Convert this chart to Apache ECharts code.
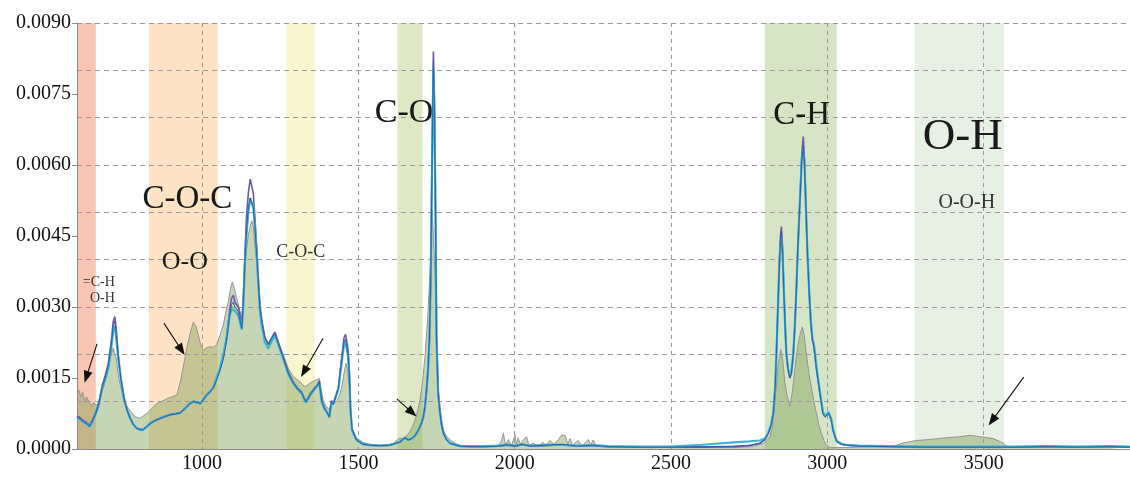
<!DOCTYPE html>
<html>
<head>
<meta charset="utf-8">
<script src="https://cdn.jsdelivr.net/npm/echarts@6/dist/echarts.min.js"></script>
<style>
html,body{margin:0;padding:0;background:#fff;}
#chart{width:1130px;height:479px;}
</style>
</head>
<body>
<div id="chart"></div>
<script>
// ---------------- data ----------------
const xTickValues = [1000, 1500, 2000, 2500, 3000, 3500];

// highlighted absorption bands (wavenumber ranges)
const bandStart = [600, 830, 1270, 1625, 2800, 3280];
const bandEnd   = [660, 1050, 1360, 1705, 3030, 3565];

// aged sample (filled spectrum)
const agedX = [
  600,606,612,618,625,631,636,642,647,652,
  657,663,668,676,684,692,700,708,716,720,
  726,732,740,748,756,764,775,786,795,802,
  812,823,840,855,870,887,903,919,930,941,
  950,956,964,972,980,988,996,1004,1014,1025,
  1036,1046,1057,1068,1076,1084,1091,1097,1103,1110,
  1116,1122,1127,1132,1137,1142,1148,1154,1159,1164,
  1169,1175,1180,1185,1191,1201,1212,1223,1233,1244,
  1260,1276,1292,1303,1313,1321,1329,1337,1345,1355,
  1366,1375,1380,1388,1398,1407,1414,1422,1430,1438,
  1446,1454,1460,1465,1471,1475,1480,1494,1515,1537,
  1570,1600,1612,1625,1633,1641,1649,1657,1665,1673,
  1681,1689,1697,1705,1713,1721,1729,1733,1736,1740,
  1745,1750,1756,1764,1772,1782,1793,1810,1825,1860,
  1900,1940,1955,1964,1970,1980,1990,2001,2006,2011,
  2018,2026,2038,2045,2060,2075,2090,2100,2113,2125,
  2140,2150,2155,2162,2170,2177,2185,2203,2215,2235,
  2243,2251,2260,2300,2400,2500,2600,2700,2760,2795,
  2816,2825,2832,2843,2851,2857,2864,2872,2880,2888,
  2896,2904,2912,2920,2926,2933,2941,2949,2957,2965,
  2973,2981,2989,2997,3010,3050,3100,3180,3221,3243,
  3285,3328,3381,3424,3456,3488,3530,3562,3573,3600,
  3700,3800,3900,3968
];
const agedY = [
  0.00118,0.00125,0.0011,0.00121,0.001,0.0011,0.00107,0.00095,0.0009,0.00098,
  0.00096,0.00092,0.001,0.00112,0.00128,0.0015,0.0017,0.00195,0.00213,0.0021,
  0.0019,0.00156,0.0013,0.00107,0.00095,0.00086,0.00076,0.00068,0.00066,0.00065,
  0.0007,0.00075,0.00086,0.00096,0.001,0.00106,0.0011,0.00114,0.0014,0.00177,
  0.0021,0.00227,0.0025,0.00268,0.0026,0.00241,0.0022,0.00209,0.00214,0.00216,
  0.00215,0.0022,0.0024,0.00262,0.0029,0.00311,0.0034,0.00353,0.0034,0.0032,
  0.00318,0.0029,0.00276,0.0032,0.00375,0.0042,0.00452,0.0047,0.00482,0.0047,
  0.00431,0.0039,0.00339,0.003,0.00269,0.00227,0.0022,0.00234,0.00241,0.00223,
  0.00199,0.0017,0.00153,0.00147,0.00142,0.00136,0.00132,0.00135,0.00139,0.00143,
  0.00146,0.00149,0.0013,0.001,0.0009,0.00082,0.001,0.00098,0.001,0.0011,
  0.00128,0.0016,0.00181,0.0017,0.00128,0.0008,0.00044,0.00023,0.00014,0.0001,
  0.00008,0.0001,0.00012,0.0002,0.00023,0.00022,0.00026,0.0003,0.00037,0.00047,
  0.00061,0.0008,0.00103,0.0014,0.00195,0.0027,0.0037,0.0044,0.00505,0.0045,
  0.0037,0.0024,0.00125,0.0007,0.0004,0.00027,0.00019,0.00012,0.00008,0.00006,
  0.00005,0.00006,0.00012,0.00033,0.00008,0.0002,0.00007,0.0003,0.00008,0.00024,
  0.0001,0.00018,0.00026,0.00008,0.00012,0.00006,0.00014,0.00008,0.00018,0.0001,
  0.0002,0.0003,0.00033,0.00028,0.0001,0.00022,0.00008,0.00018,0.00006,0.0002,
  0.00008,0.00019,0.00006,0.00004,0.00004,0.00003,0.00003,0.00003,0.00005,0.00012,
  0.00026,0.0005,0.00096,0.0018,0.0021,0.0019,0.0014,0.0011,0.0009,0.0012,
  0.00167,0.0021,0.0024,0.00258,0.0024,0.002,0.0016,0.0013,0.001,0.00075,
  0.0005,0.00033,0.00018,0.00008,0.00003,0.00003,0.00004,0.00006,0.00008,0.00013,
  0.00018,0.0002,0.00024,0.00026,0.00029,0.00026,0.00022,0.00013,0.00006,0.00004,
  0.00005,0.00004,0.00005,0.00004
];

// fresh samples (line spectra), shared wavenumbers
const lineX = [
  600,610,620,630,640,650,660,670,680,690,700,710,716,721,726,732,740,750,760,770,780,790,800,
  810,820,835,850,865,880,897,915,930,945,960,972,985,995,1005,1015,1025,1036,1046,1057,1068,1078,1088,1094,1100,1105,1110,1116,1122,1127,
  1132,1137,1142,1148,1154,1159,1164,1169,1175,1180,1185,1191,1201,1212,1223,1233,1244,
  1260,1276,1292,1308,1319,1325,1332,1338,1345,1361,1370,1375,1379,1383,1390,1398,1407,1414,1420,1425,1436,1446,1454,1459,1463,1467,1471,1475,1480,1494,
  1515,1537,1570,1600,1620,1633,1645,1652,1660,1670,1680,1692,1702,1708,1713,1718,1723,1727,1731,1734,1737,1740,1743,1746,1750,1755,1759,1765,1772,1782,1793,1825,
  1860,1900,1950,1975,2000,2025,2050,2100,2150,2200,2250,2300,2400,2500,2600,2700,2750,2784,
  2800,2811,2820,2827,2833,2837,2842,2846,2850,2853,2857,2861,2865,2869,2874,2880,2885,2891,2896,2901,2906,2912,2918,2923,2927,2931,2936,2942,2947,2952,2956,2960,2965,2970,2978,2986,2993,2999,3004,3008,3013,3018,3025,3031,3045,3061,
  3100,3200,3300,3400,3500,3600,3700,3800,3900,3968
];
const purpleY = [
  0.0007,0.00066,0.0006,0.00056,0.0005,0.00062,0.00078,0.00098,0.00133,0.00155,0.0018,0.0023,0.0027,0.0028,0.0025,0.002,0.00152,0.0011,0.00083,0.00066,0.00053,0.00045,0.00042,
  0.00041,0.00046,0.00055,0.00061,0.00065,0.00069,0.00073,0.00075,0.00077,0.00086,0.00096,0.00101,0.00099,0.00097,0.00106,0.00115,0.00122,0.0013,0.00148,0.00168,0.00195,0.00235,0.0029,0.00318,0.00325,0.0031,0.00312,0.003,0.0028,0.00262,
  0.0032,0.0041,0.0049,0.0054,0.0057,0.0057,0.0054,0.0049,0.0042,0.0036,0.00305,0.00272,0.00236,0.00222,0.00236,0.00247,0.00226,
  0.00195,0.00163,0.00141,0.00127,0.0012,0.0011,0.00101,0.00107,0.00116,0.0013,0.00137,0.00144,0.00122,0.00102,0.0009,0.0008,0.0007,0.00102,0.00097,0.00095,0.0013,0.0019,0.00235,0.00242,0.0024,0.0021,0.00165,0.00082,0.00041,0.0002,
  0.0001,0.00008,0.00007,0.00008,0.00012,0.00015,0.00022,0.00023,0.00019,0.00022,0.00027,0.0004,0.00055,0.00068,0.0009,0.00125,0.0017,0.0023,0.0035,0.0053,0.0071,0.0084,0.0074,0.0057,0.0024,0.0012,0.0009,0.00056,0.00033,0.0002,0.00012,0.00006,
  0.00005,0.00005,0.00006,0.00008,0.00006,0.00009,0.00006,0.00007,0.00009,0.00006,0.00007,0.00005,0.00004,0.00004,0.00004,0.00005,0.00007,0.00012,
  0.0002,0.00033,0.0005,0.00075,0.0013,0.002,0.003,0.0039,0.0045,0.0047,0.0042,0.0033,0.0026,0.002,0.0017,0.0015,0.0016,0.002,0.0026,0.0034,0.0043,0.0052,0.0062,0.0066,0.0061,0.0052,0.0042,0.0033,0.0027,0.0023,0.0022,0.002,0.0017,0.00146,0.0011,0.00075,0.00068,0.00068,0.00076,0.00079,0.0006,0.0004,0.00024,0.00015,0.0001,0.00008,
  0.00006,0.00005,0.00004,0.00004,0.00004,0.00004,0.00005,0.00004,0.00005,0.00004
];
const blueY = [
  0.00068,0.00064,0.00058,0.00054,0.00048,0.0006,0.00075,0.00095,0.0013,0.0015,0.00175,0.00222,0.0026,0.0027,0.0024,0.00195,0.0015,0.00108,0.00082,0.00065,0.00052,0.00044,0.00041,
  0.0004,0.00045,0.00054,0.0006,0.00064,0.00068,0.00072,0.00074,0.00076,0.00085,0.00095,0.001,0.00098,0.00096,0.00105,0.00114,0.0012,0.00128,0.00145,0.00165,0.0019,0.00228,0.0028,0.00305,0.0031,0.003,0.00302,0.0029,0.0027,0.00255,
  0.0031,0.00396,0.0046,0.0051,0.0053,0.0053,0.0051,0.0047,0.0041,0.00354,0.003,0.00269,0.00234,0.0022,0.00234,0.00244,0.00223,
  0.00192,0.0016,0.00139,0.00125,0.00118,0.00108,0.00099,0.00105,0.00114,0.00128,0.00135,0.00142,0.0012,0.001,0.00088,0.00079,0.00068,0.001,0.00095,0.00093,0.00128,0.00185,0.00225,0.00232,0.0023,0.002,0.0016,0.0008,0.0004,0.00019,
  0.0001,0.00008,0.00007,0.00008,0.00012,0.00015,0.00022,0.00023,0.00019,0.00022,0.00027,0.0004,0.00055,0.00068,0.0009,0.00125,0.0017,0.0023,0.0034,0.0051,0.0068,0.0082,0.0073,0.0056,0.0023,0.0012,0.00089,0.00055,0.00033,0.0002,0.00012,0.00006,
  0.00005,0.00005,0.00006,0.00009,0.00006,0.0001,0.00006,0.00008,0.0001,0.00006,0.00008,0.00005,0.00004,0.00004,0.00005,0.00006,0.00008,0.00012,
  0.0002,0.00033,0.0005,0.00075,0.0013,0.002,0.003,0.0038,0.0044,0.0046,0.0041,0.0033,0.0026,0.002,0.0017,0.0015,0.0016,0.002,0.0026,0.0034,0.0043,0.0052,0.0061,0.0064,0.006,0.0052,0.0042,0.0033,0.0027,0.0023,0.0022,0.002,0.0017,0.00146,0.0011,0.00075,0.00068,0.00068,0.00076,0.00079,0.0006,0.0004,0.00024,0.00015,0.0001,0.00008,
  0.00006,0.00005,0.00004,0.00004,0.00004,0.00004,0.00005,0.00004,0.00005,0.00004
];
const cyanY = [
  0.00066,0.00062,0.00057,0.00053,0.00047,0.00059,0.00074,0.00093,0.00127,0.00146,0.0017,0.00215,0.0025,0.0026,0.0023,0.0019,0.00148,0.00107,0.00082,0.00065,0.00052,0.00044,0.00041,
  0.0004,0.00045,0.00054,0.0006,0.00064,0.00068,0.00072,0.00074,0.00076,0.00085,0.00095,0.001,0.00098,0.00096,0.00105,0.00114,0.0012,0.0013,0.0015,0.0017,0.002,0.00232,0.0028,0.00295,0.00298,0.00292,0.00295,0.00282,0.00265,0.00252,
  0.003,0.0039,0.0045,0.005,0.0053,0.0053,0.0051,0.0047,0.0041,0.0035,0.0029,0.0026,0.00225,0.00212,0.00228,0.0024,0.0022,
  0.0019,0.00158,0.00138,0.00124,0.00117,0.00107,0.00098,0.00104,0.00113,0.00127,0.00134,0.0014,0.00118,0.00099,0.00087,0.00078,0.00067,0.00099,0.00094,0.00092,0.00126,0.0018,0.0022,0.00226,0.00224,0.00195,0.00155,0.00078,0.00039,0.00019,
  0.0001,0.00008,0.00007,0.00008,0.00012,0.00015,0.00022,0.00023,0.00019,0.00022,0.00027,0.0004,0.00055,0.00068,0.0009,0.00125,0.0017,0.0023,0.0034,0.005,0.0066,0.008,0.0072,0.0055,0.0023,0.0012,0.00089,0.00055,0.00033,0.0002,0.00012,0.00006,
  0.00006,0.00006,0.00007,0.0001,0.00007,0.0001,0.00007,0.00009,0.00009,0.00007,0.00008,0.00006,0.00005,0.00005,0.00009,0.00014,0.00016,0.00018,
  0.00022,0.00035,0.00052,0.00077,0.0013,0.002,0.003,0.0038,0.0043,0.0045,0.0041,0.0033,0.0026,0.002,0.0017,0.00155,0.00165,0.002,0.0026,0.0034,0.0043,0.0052,0.0061,0.00635,0.006,0.0052,0.0042,0.0033,0.0027,0.00235,0.00225,0.00205,0.00175,0.0015,0.00113,0.00078,0.0007,0.0007,0.00078,0.00081,0.00062,0.00042,0.00026,0.00017,0.00011,0.00009,
  0.00007,0.00006,0.00005,0.00005,0.00005,0.00005,0.00006,0.00005,0.00006,0.00005
];

// annotations (text and arrows, in data coordinates)
const annotText = ['C-O-C', 'O-O', 'C-O-C', '=C-H\nO-H', 'C-O', 'C-H', 'O-H', 'O-O-H'];
const annotX    = [953, 945, 1316, 721, 1646, 2918, 3433, 3446];
const annotY    = [0.00528, 0.00394, 0.00416, 0.00335, 0.00709, 0.00704, 0.00658, 0.0052];
const arrowFrom = [[664, 0.00222], [878, 0.00266], [1387, 0.00234], [1623, 0.00106], [3628, 0.00152]];
const arrowTo   = [[630, 0.00152], [934, 0.00209], [1326, 0.00163], [1672, 0.00077], [3527, 0.00060]];

// ---------------- styles ----------------
const bandColors = ['#f8c6b2', '#fde3c4', '#f8f5cf', '#dfe8c5', '#d5e5c5', '#e6f0e3'];
const annotSize  = [33, 26, 18, 14, 34, 33, 45, 20];
const annotColor = ['#1a1a1a', '#1a1a1a', '#333', '#333', '#1a1a1a', '#1a1a1a', '#1a1a1a', '#333'];
const serif = '"Liberation Serif", "DejaVu Serif", serif';
const X_MIN = 600, X_MAX = 3968, Y_MIN = 0, Y_MAX = 0.009;
const gridColor = '#9b9b9b';
const axisColor = '#8a8a8a';

const zip = (xs, ys) => xs.map((x, i) => [x, ys[i]]);

const chart = echarts.init(document.getElementById('chart'), null, {renderer: 'canvas'});

const option = {
  animation: false,
  backgroundColor: '#fff',
  grid: {left: 77, right: 0, top: 23, bottom: 30, containLabel: false},
  xAxis: [
    {
      type: 'value', min: X_MIN, max: X_MAX, z: 3,
      axisLine: {show: true, lineStyle: {color: axisColor, width: 1}},
      axisTick: {show: false, customValues: xTickValues},
      axisLabel: {customValues: xTickValues, formatter: v => String(v), fontFamily: serif, fontSize: 20, color: '#111', margin: 5},
      splitLine: {show: true, lineStyle: {color: gridColor, type: [4, 4], width: 1}}
    },
    {
      type: 'value', position: 'top', min: X_MIN, max: X_MAX, z: 3,
      axisLine: {show: true, lineStyle: {color: axisColor, width: 1}},
      axisTick: {show: false}, axisLabel: {show: false}, splitLine: {show: false}
    }
  ],
  yAxis: [
    {
      type: 'value', min: Y_MIN, max: Y_MAX, interval: 0.0015, z: 3,
      axisLine: {show: true, lineStyle: {color: axisColor, width: 1}},
      axisTick: {show: true, length: 5, lineStyle: {color: axisColor}},
      axisLabel: {formatter: v => v.toFixed(4), fontFamily: serif, fontSize: 20, color: '#111', margin: 6},
      splitLine: {show: false}
    },
    {
      type: 'value', min: Y_MIN, max: Y_MAX, interval: 0.001, position: 'left', z: 3,
      axisLine: {show: false}, axisTick: {show: false}, axisLabel: {show: false},
      splitLine: {show: true, lineStyle: {color: gridColor, type: [5, 4], width: 1}}
    }
  ],
  series: [
    {
      type: 'custom', name: 'bands', z: 1, silent: true,
      xAxisIndex: 0, yAxisIndex: 0,
      data: bandStart.map((s, i) => [s, bandEnd[i]]),
      encode: {x: [0, 1]},
      renderItem: (params, api) => {
        const p1 = api.coord([api.value(0), Y_MAX]);
        const p2 = api.coord([api.value(1), Y_MIN]);
        return {
          type: 'rect',
          shape: {x: p1[0], y: p1[1], width: p2[0] - p1[0], height: p2[1] - p1[1]},
          style: {fill: bandColors[params.dataIndex]}
        };
      }
    },
    {
      type: 'line', name: 'aged', z: 2, silent: true,
      xAxisIndex: 0, yAxisIndex: 0,
      data: zip(agedX, agedY),
      showSymbol: false, smooth: false,
      lineStyle: {color: '#959595', width: 1},
      areaStyle: {color: 'rgba(128,160,88,0.64)'}
    },
    {
      type: 'line', name: 'purple', z: 4, silent: true,
      data: zip(lineX, purpleY), showSymbol: false,
      lineStyle: {color: '#6f5aa8', width: 1.6}
    },
    {
      type: 'line', name: 'cyan', z: 5, silent: true,
      data: zip(lineX, cyanY), showSymbol: false,
      lineStyle: {color: '#3cb6d6', width: 2.2}
    },
    {
      type: 'line', name: 'blue', z: 6, silent: true,
      data: zip(lineX, blueY), showSymbol: false,
      lineStyle: {color: '#2d5fa6', width: 1},
      markPoint: {
        silent: true,
        symbol: 'circle', symbolSize: 0,
        itemStyle: {color: 'rgba(0,0,0,0)'},
        data: annotText.map((t, i) => ({
          name: t,
          coord: [annotX[i], annotY[i]],
          label: {
            show: true, position: 'inside', formatter: t,
            fontFamily: serif, fontSize: annotSize[i], color: annotColor[i],
            align: i === 3 ? 'right' : 'center',
            lineHeight: i === 3 ? 16.5 : annotSize[i]
          }
        }))
      },
      markLine: {
        silent: true, animation: false,
        symbol: ['none', 'triangle'], symbolSize: [9, 12],
        lineStyle: {color: '#111', width: 1.1, type: 'solid'},
        itemStyle: {color: '#111'},
        label: {show: false},
        emphasis: {disabled: true},
        data: arrowFrom.map((f, i) => [{coord: f}, {coord: arrowTo[i]}])
      }
    }
  ]
};
chart.setOption(option);
</script>
</body>
</html>
